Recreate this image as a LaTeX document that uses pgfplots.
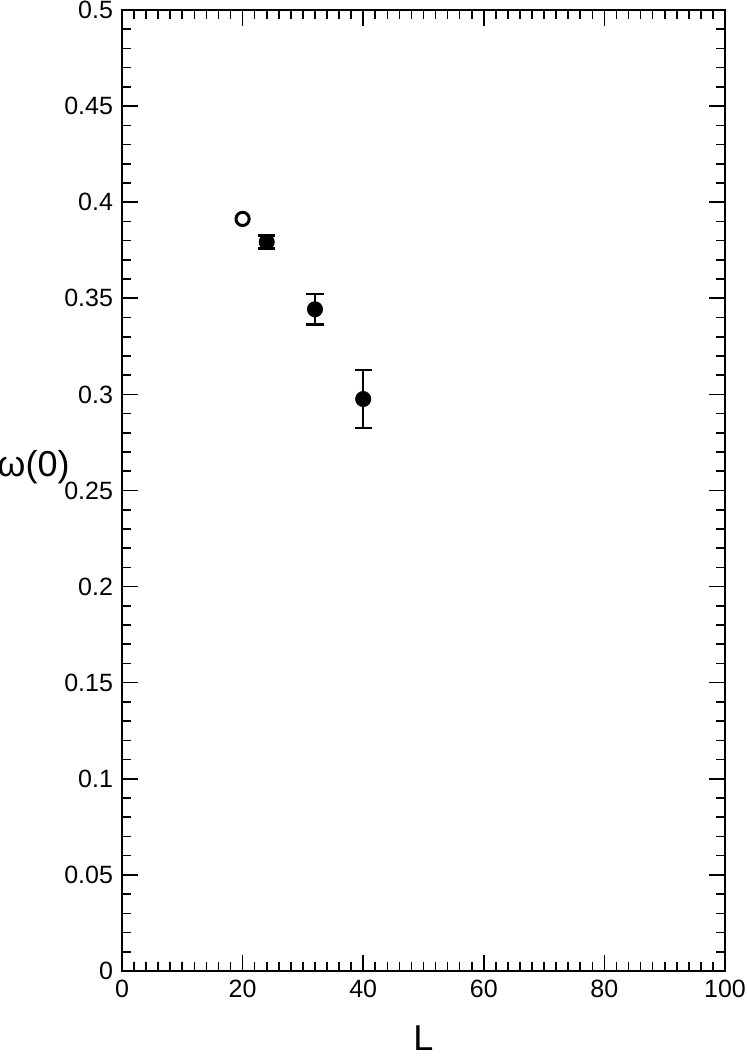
\documentclass[border=0pt]{standalone}
\usepackage{fontspec}
\setmainfont{Liberation Sans}
\usepackage{pgfplots}
\pgfplotsset{compat=1.18}
\begin{document}
\begin{tikzpicture}
\begin{axis}[
  scale only axis,
  width=301.5pt, height=480.5pt,
  xmin=0, xmax=100, ymin=0, ymax=0.5,
  xtick={0,20,...,100},
  ytick={0,0.05,...,0.5},
  minor x tick num=9,
  minor y tick num=4,
  tick align=inside,
  tick pos=both,
  major tick length=8pt,
  minor tick length=4.5pt,
  axis line style={line width=1pt},
  every tick/.style={line width=0.8pt, black},
  scaled y ticks=false,
  /pgf/number format/assume math mode=true,
  yticklabel style={/pgf/number format/fixed, /pgf/number format/precision=2, font=\fontsize{12.5}{14}\selectfont, xshift=-1pt},
  xticklabel style={font=\fontsize{12.5}{14}\selectfont, yshift=-1pt},
  xlabel={L},
  ylabel={ω(0)},
  xlabel style={font=\fontsize{18}{20}\selectfont, at={(rel axis cs:0.5,0)}, anchor=north, inner sep=0pt, yshift=-27pt},
  ylabel style={font=\fontsize{18}{20}\selectfont, rotate=-90, at={(rel axis cs:0,0.524)}, anchor=east, inner sep=0pt, xshift=-26pt},
  clip=false,
]
\addplot[only marks, mark=*, mark size=3.3pt, mark options={fill=white, draw=black, line width=1.5pt},
  error bars/.cd, y dir=both, y explicit, error bar style={line width=1.3pt}, error mark options={rotate=90, mark size=1.5pt, line width=1.3pt}]
  coordinates {(20,0.3913) +- (0,0.0026)};
\addplot[only marks, mark=*, mark size=3.8pt, mark options={fill=black, draw=black},
  error bars/.cd, y dir=both, y explicit, error bar style={line width=1.3pt}, error mark options={rotate=90, mark size=4.3pt, line width=1.3pt}]
  coordinates {
    (24,0.3793) +- (0,0.0034)
    (32,0.3443) +- (0,0.0080)
    (40,0.2976) +- (0,0.0150)
  };
\end{axis}
\pgfresetboundingbox
\path (-61pt,-42.5pt) rectangle (312.5pt,485.5pt);
\end{tikzpicture}
\end{document}
